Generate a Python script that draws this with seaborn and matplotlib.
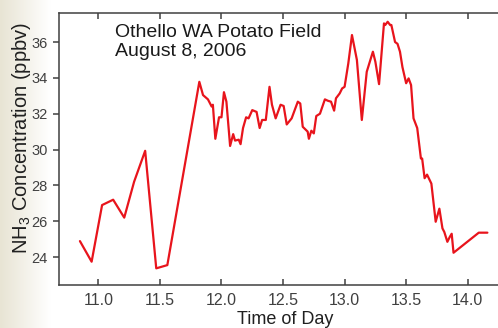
"""NH3 concentration over the day at the Othello potato field."""

import numpy as np
import pandas as pd
import matplotlib
matplotlib.use('Agg')
import matplotlib.pyplot as plt
import seaborn as sns

# Data
times = [10.85, 10.945, 11.03, 11.12, 11.21, 11.29, 11.38, 11.47, 11.56, 11.82,
         11.85, 11.89, 11.92, 11.93, 11.95, 11.98, 12.0, 12.02, 12.04, 12.07,
         12.095, 12.11, 12.14, 12.155, 12.175, 12.2, 12.22, 12.25, 12.285, 12.31,
         12.33, 12.36, 12.39, 12.41, 12.44, 12.48, 12.505, 12.53, 12.57, 12.60,
         12.62, 12.64, 12.66, 12.70, 12.71, 12.73, 12.75, 12.77, 12.80, 12.84,
         12.865, 12.89, 12.915, 12.93, 12.96, 12.98, 13.0, 13.03, 13.06, 13.10,
         13.14, 13.18, 13.23, 13.25, 13.28, 13.32, 13.33, 13.35, 13.37, 13.38,
         13.41, 13.43, 13.45, 13.47, 13.50, 13.52, 13.54, 13.56, 13.59, 13.62,
         13.63, 13.65, 13.67, 13.705, 13.74, 13.77, 13.795, 13.81, 13.835, 13.855,
         13.87, 13.885, 14.09, 14.16]
nh3_ppbv = [24.89, 23.74, 26.9, 27.2, 26.2, 28.2, 29.93, 23.37, 23.55, 33.78,
            33.04, 32.8, 32.4, 32.5, 30.6, 31.8, 31.8, 33.2, 32.67, 30.2,
            30.86, 30.5, 30.55, 30.3, 31.2, 31.8, 31.74, 32.2, 32.1, 31.2,
            31.65, 31.65, 33.5, 32.5, 31.74, 32.5, 32.43, 31.4, 31.74, 32.3,
            32.67, 32.57, 31.27, 31.0, 30.6, 31.05, 30.9, 31.87, 32.0, 32.8,
            32.72, 32.67, 32.17, 32.86, 33.13, 33.41, 33.5, 34.8, 36.39, 35.0,
            31.65, 34.34, 35.46, 34.9, 33.65, 37.04, 36.95, 37.13, 36.95, 36.95,
            36.0, 35.9, 35.46, 34.6, 33.7, 33.97, 33.6, 31.74, 31.2, 29.5,
            29.5, 28.4, 28.6, 28.1, 25.97, 26.7, 25.6, 25.4, 24.85, 25.13,
            25.3, 24.24, 25.36, 25.36]

x_ticks = [11.0, 11.5, 12.0, 12.5, 13.0, 13.5, 14.0]
y_ticks = [24, 26, 28, 30, 32, 34, 36]

sns.set_theme(style='ticks')
plt.rcParams['font.family'] = ['Liberation Sans', 'DejaVu Sans']
plt.rcParams['mathtext.fontset'] = 'custom'
plt.rcParams['mathtext.rm'] = 'Liberation Sans'
plt.rcParams['mathtext.it'] = 'Liberation Sans'

df = pd.DataFrame({'time': times, 'nh3': nh3_ppbv})

W, H = 498, 328
fig = plt.figure(figsize=(W / 100, H / 100), dpi=100)
fig.patch.set_facecolor('white')

# faint beige strip on the left edge of the slide
bg = fig.add_axes([0, 0, 1, 1], zorder=-1)
grad = np.clip(1 - np.linspace(0, 1, W) * W / 50, 0, 1)[None, :]
bg.imshow(grad, aspect='auto', cmap=matplotlib.colors.LinearSegmentedColormap.from_list(
    'bg', ['#ffffff', '#e8e4d4']), extent=[0, 1, 0, 1], vmin=0, vmax=1)
bg.axis('off')

left, right, top, bottom = 59, 512, 13, 285
ax = fig.add_axes([left / W, 1 - bottom / H, (right - left) / W, (bottom - top) / H])
ax.set_facecolor('white')

sns.lineplot(data=df, x='time', y='nh3', color='#e8141c', linewidth=1.6,
             estimator=None, sort=False, ax=ax)

ax.set_xlim(10.68, 14.36)
ax.set_ylim(22.44, 37.62)
ax.set_xticks(x_ticks)
ax.set_xticklabels([f'{t:.1f}' for t in x_ticks])
ax.set_yticks(y_ticks)
ax.set_yticklabels([str(v) for v in y_ticks])

spine_col = '#404040'
for side in ['left', 'bottom', 'top']:
    ax.spines[side].set_color(spine_col)
    ax.spines[side].set_linewidth(1.1)
ax.spines['right'].set_visible(False)

ax.tick_params(axis='x', which='both', direction='in', top=True, bottom=True,
               length=4, width=1.1, color=spine_col, labelsize=11.5,
               labelcolor='#404040', pad=6)
ax.tick_params(axis='y', direction='out', right=False, length=4, width=1.1,
               color=spine_col, labelsize=10.5, labelcolor='#404040', pad=4)

ax.set_xlabel('Time of Day', fontsize=13, color='#202020', labelpad=2)
ax.set_ylabel('NH$_3$ Concentration (ppbv)', fontsize=14.5, color='#202020')
ax.yaxis.set_label_coords((33 - left) / (right - left), (bottom - 138) / (bottom - top))

fig.text(115 / W, 1 - 24 / H, 'Othello WA Potato Field\nAugust 8, 2006',
         fontsize=14, color='#1a1a1a', va='top', ha='left', linespacing=1.12)

fig.savefig('out.png', dpi=100)
